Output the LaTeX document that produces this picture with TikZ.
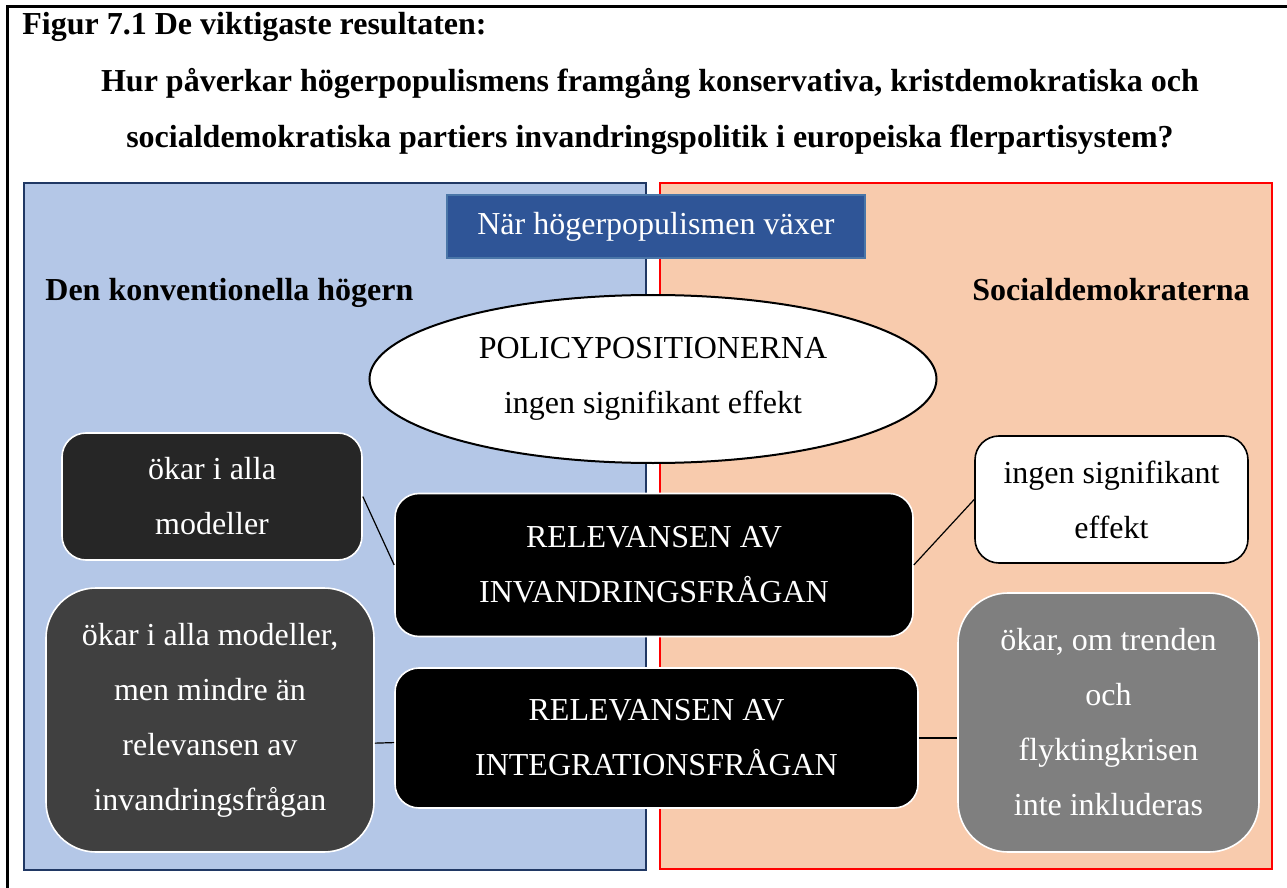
\documentclass[tikz,border=0pt]{standalone}
\usepackage{fontspec}
\setmainfont{Liberation Serif}
\usetikzlibrary{shapes.geometric}

\definecolor{leftfill}{HTML}{B4C7E7}
\definecolor{leftline}{HTML}{203864}
\definecolor{rightfill}{HTML}{F8CBAD}
\definecolor{narfill}{HTML}{2F5597}
\definecolor{narline}{HTML}{4A76A8}
\definecolor{darkbox}{HTML}{262626}
\definecolor{midbox}{HTML}{404040}
\definecolor{greybox}{HTML}{7F7F7F}

\newcommand{\bodyfont}{\fontsize{16}{27.5}\selectfont}
\newcommand{\headfont}{\bfseries\fontsize{16}{28}\selectfont}

\tikzset{
  panel/.style={line width=1pt},
  head/.style={font=\headfont, inner sep=0pt},
  resultbox/.style={rounded corners=12pt, draw=white, line width=0.8pt,
    text=white, align=center, font=\bodyfont, inner sep=0pt},
  link/.style={line width=0.6pt},
}

\begin{document}
\begin{tikzpicture}[x=0.5pt,y=-0.5pt]
\useasboundingbox (0,0) rectangle (1287,888);
\draw[line width=1.5pt] (7,888) -- (7,7) -- (1287,7);

% title
\node[head, anchor=base west] (fig) at (22,35) {Figur 7.1 De viktigaste resultaten:};
\node[head, anchor=base] (q1) at (650,92) {Hur påverkar högerpopulismens framgång konservativa, kristdemokratiska och};
\node[head, anchor=base] (q2) at (650,148) {socialdemokratiska partiers invandringspolitik i europeiska flerpartisystem?};

% panels
\draw[panel, draw=leftline, fill=leftfill] (24,183) rectangle (646,870);
\draw[panel, draw=red, fill=rightfill] (660,183) rectangle (1272,869);
\node[head, anchor=base west] (hoger) at (45,300) {Den konventionella högern};
\node[head, anchor=base east] (sosdem) at (1250,300) {Socialdemokraterna};

\node[draw=narline, fill=narfill, line width=0.8pt, text=white, font=\bodyfont,
  minimum width=209pt, minimum height=31.5pt] (nar) at (656,226.5) {När högerpopulismen växer};

\node[ellipse, draw, fill=white, line width=1pt, align=center, font=\bodyfont, inner sep=0pt,
  minimum width=283.5pt, minimum height=84pt] (policy) at (653,379)
  {POLICYPOSITIONERNA\\ingen signifikant effekt};

% middle
\node[resultbox, fill=black, minimum width=259pt, minimum height=71.5pt] (inv) at (654,565)
  {RELEVANSEN AV\\INVANDRINGSFRÅGAN};
\node[resultbox, fill=black, minimum width=261.5pt, minimum height=70pt] (int) at (656.5,738)
  {RELEVANSEN AV\\INTEGRATIONSFRÅGAN};

% left
\node[resultbox, fill=darkbox, minimum width=150pt, minimum height=63.5pt] (ltop) at (212,496.5)
  {ökar i alla\\modeller};
\node[resultbox, fill=midbox, rounded corners=25pt, minimum width=164pt, minimum height=132pt] (lbot) at (210,720)
  {ökar i alla modeller,\\men mindre än\\relevansen av\\invandringsfrågan};

% right
\node[resultbox, fill=white, draw=black, text=black, minimum width=136.5pt, minimum height=63.5pt] (rtop) at (1111.5,499.5)
  {ingen signifikant\\effekt};
\node[resultbox, fill=greybox, rounded corners=25pt, minimum width=150.5pt, minimum height=129.5pt] (rbot) at (1108.5,722.5)
  {ökar, om trenden\\och\\flyktingkrisen\\inte inkluderas};

\draw[link] (ltop.east) -- (inv.west);
\draw[link] (inv.east) -- (rtop.west);
\draw[link] (lbot.-8) -- (int.181.5);
\draw[link] (int.east) -- (int.east -| rbot.west);
\end{tikzpicture}
\end{document}
